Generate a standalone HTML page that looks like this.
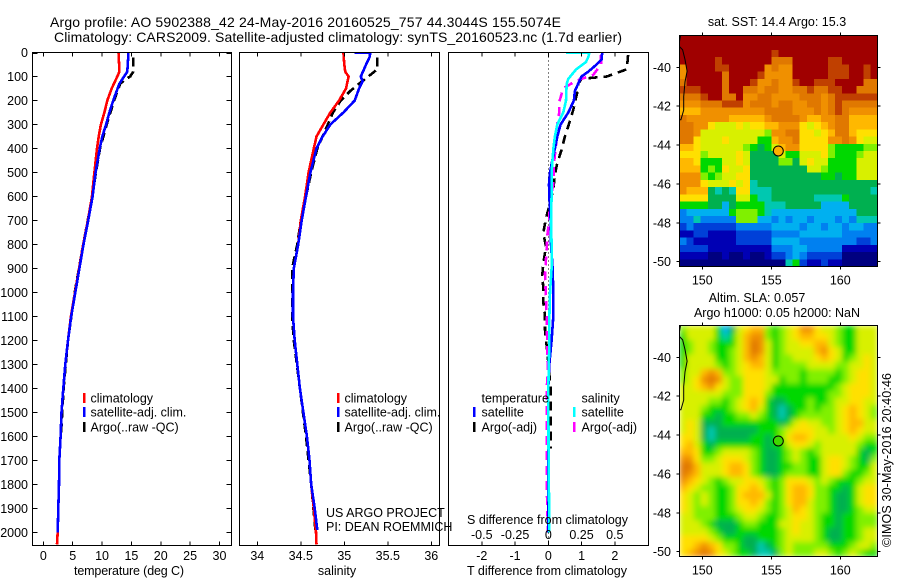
<!DOCTYPE html>
<html>
<head>
<meta charset="utf-8">
<title>Argo profile</title>
<style>
html,body{margin:0;padding:0;background:#fff;width:900px;height:580px;overflow:hidden}
svg{display:block}
text{font-family:"Liberation Sans",sans-serif;font-size:12.5px;fill:#000}
</style>
</head>
<body>
<svg id="chart" xmlns="http://www.w3.org/2000/svg" width="900" height="580" viewBox="0 0 900 580">
<defs>
<clipPath id="clip-temp"><rect x="32.5" y="52.5" width="199" height="493"/></clipPath>
<clipPath id="clip-sal"><rect x="239.5" y="52.5" width="200" height="493"/></clipPath>
<clipPath id="clip-diff"><rect x="448.5" y="52.5" width="200" height="493"/></clipPath>
<clipPath id="clip-sst"><rect x="679.5" y="35.5" width="198" height="231"/></clipPath>
<clipPath id="clip-sla"><rect x="679.5" y="325.5" width="198" height="231"/></clipPath>
<filter id="smooth" x="0" y="0" width="1" height="1"><feGaussianBlur stdDeviation="3" edgeMode="duplicate"/></filter>
</defs>
<text x="50" y="27" style="font-size:14px" textLength="511" lengthAdjust="spacing">Argo profile: AO 5902388_42 24-May-2016 20160525_757 44.3044S 155.5074E</text>
<text x="54" y="42" style="font-size:14px" textLength="568" lengthAdjust="spacing">Climatology: CARS2009. Satellite-adjusted climatology: synTS_20160523.nc (1.7d earlier)</text>
<g id="layer"></g>
<text x="129" y="575" text-anchor="middle" textLength="110" lengthAdjust="spacing">temperature (deg C)</text>
<text x="337" y="575" text-anchor="middle">salinity</text>
<text x="547" y="575" text-anchor="middle" textLength="160" lengthAdjust="spacing">T difference from climatology</text>
<text x="547.5" y="524" text-anchor="middle" textLength="161" lengthAdjust="spacing">S difference from climatology</text>
<text x="326" y="517">US ARGO PROJECT</text>
<text x="326" y="531">PI: DEAN ROEMMICH</text>
<text x="777" y="26" text-anchor="middle">sat. SST: 14.4  Argo: 15.3</text>
<text x="757" y="302" text-anchor="middle">Altim. SLA: 0.057</text>
<text x="777" y="317" text-anchor="middle">Argo h1000: 0.05 h2000: NaN</text>
<text transform="translate(891,547) rotate(-90)" textLength="174" lengthAdjust="spacing">©IMOS 30-May-2016 20:40:46</text>
</svg>
<script>
const depthTicks = [0,100,200,300,400,500,600,700,800,900,1000,1100,1200,1300,1400,1500,1600,1700,1800,1900,2000];
const tempTicks = [0,5,10,15,20,25,30];
const salTicks = [34,34.5,35,35.5,36];
const tDiffTicks = [-2,-1,0,1,2];
const sDiffTicks = [-0.5,-0.25,0,0.25,0.5];
const lonTicks = [150,155,160];
const latTicks = [-40,-42,-44,-46,-48,-50];

const climDepth = [0,50,80,100,150,200,250,300,350,400,500,600,700,800,900,1000,1100,1200,1300,1400,1500,1600,1700,1800,1900,2000,2050];
const climTemp = [12.8,12.9,12.95,12.6,11.65,10.9,10.4,9.8,9.43,9.15,8.7,8.3,7.6,6.8,6.1,5.4,4.7,4.2,3.75,3.4,3.1,2.95,2.73,2.67,2.55,2.45,2.33];
const climSal = [34.99,35,35.01,35.05,35.02,34.94,34.84,34.76,34.68,34.65,34.59,34.55,34.5,34.47,34.42,34.41,34.41,34.43,34.46,34.49,34.53,34.57,34.6,34.62,34.65,34.675,34.68];

const satTDepth = [0,80,100,130,200,250,300,350,400,500,600,700,800,900,1000,1100,1200,1300,1400,1500,1600,1700,1800,1900,2000];
const satTemp = [14.5,14.3,13.75,12.95,11.9,11.25,10.7,10.05,9.6,8.9,8.4,7.65,6.85,6.15,5.45,4.75,4.2,3.75,3.4,3.1,2.95,2.73,2.67,2.55,2.45];
const satSDepth = [0,0,20,50,100,120,150,200,250,300,350,400,500,600,700,800,900,1000,1100,1200,1300,1400,1500,1600,1700,1800,1900,1990];
const satSal = [35.12,35.3,35.29,35.25,35.19,35.21,35.17,35.12,34.99,34.84,34.75,34.68,34.61,34.56,34.51,34.47,34.42,34.41,34.41,34.43,34.46,34.49,34.53,34.57,34.6,34.62,34.66,34.69];

const argoTDepth = [20,80,100,110,130,200,300,400,500,600,800,1000,1200,1400,1600];
const argoTemp = [15.3,15.3,14.8,14.1,13.1,12.05,10.8,9.65,8.95,8.35,6.8,5.35,4.2,3.45,3];
const argoSDepth = [20,70,90,110,130,160,200,250,300,400,500,600,700,800,900,1000,1100,1200,1400,1600,1800,2000];
const argoSal = [35.38,35.38,35.31,35.24,35.17,35.07,34.96,34.87,34.81,34.69,34.62,34.56,34.5,34.46,34.4,34.4,34.4,34.42,34.49,34.56,34.62,34.67];

const dTSatDepth = [0,30,60,80,100,130,160,200,250,300,350,400,450,500,550,600,700,800,900,1000,1100,1200,1300,1400,1700,2000];
const dTSat = [1.62,1.6,1.37,1.2,1,0.9,0.8,0.77,0.6,0.37,0.27,0.2,0.12,0.05,0.02,0.03,0.07,0.08,0.13,0.15,0.15,0.1,0.03,0,0,0];
const dTArgoDepth = [10,70,80,100,105,110,130,149,240,295,350,405,460,510,570,630,690,753,810,878,928,982,1040,1100,1157,1260,1400,1650];
const dTArgo = [2.4,2.36,2.16,1.76,1.35,1,0.9,0.9,0.75,0.63,0.5,0.4,0.27,0.2,0.15,0.05,-0.07,-0.15,-0.07,-0.15,-0.18,-0.15,-0.15,-0.1,-0.1,-0.02,0.07,0.07];
const dSSatDepth = [0,0,20,40,70,90,110,130,200,250,300,350,400,500,600,700,800,900,1000,1100,1200,1300,1400,1700,2000];
const dSSat = [0.133,0.31,0.3,0.283,0.21,0.18,0.15,0.138,0.133,0.113,0.068,0.05,0.038,0.025,0.025,0.02,0.025,0.025,0.013,0.008,0.008,0.004,0,0.002,0.008];
const dSArgoDepth = [10,50,93,118,149,205,250,295,360,460,545,640,698,753,860,920,1040,1100,1215,1340,1400,1800,2000];
const dSArgo = [0.396,0.396,0.338,0.21,0.113,0.083,0.083,0.068,0.063,0.043,0.038,0.008,0.008,-0.005,-0.017,-0.025,-0.017,-0.012,-0.008,-0.004,-0.012,-0.012,-0.002];

const coastLon = [148.43,148.3,148.57,148.75,148.9,148.75,148.65,148.65,148.45,148.3];
const coastLat = [-38.34,-38.9,-39.1,-39.6,-40.2,-40.75,-41.5,-42.2,-42.7,-42.7];
const floatLon = [155.5074];
const floatLat = [-44.3044];

const sstLevels = [
[15,15,15,15,15,15,15,15,15,15,15,15,15,15,15,15,15,15,15,15,15,15,15,15,15,15,15,15],
[15,15,15,15,15,15,15,15,15,15,15,15,15,15,15,15,15,15,15,15,15,15,15,15,15,15,15,15],
[15,15,15,15,15,15,15,15,15,15,15,15,15,14,15,15,15,15,15,15,15,15,15,15,15,15,15,15],
[15,15,15,15,15,14,15,15,15,15,15,15,15,13,13,13,15,15,15,15,15,14,14,15,15,15,15,15],
[12,15,15,15,15,14,14,15,15,15,15,15,12,13,12,12,15,15,15,15,15,14,14,14,15,15,14,15],
[12,15,15,15,15,15,13,15,15,15,15,14,12,12,12,12,15,15,15,15,15,14,14,14,15,15,14,15],
[13,15,15,15,15,15,13,15,15,15,14,12,12,13,12,12,14,15,15,14,14,14,15,15,15,15,13,13],
[14,14,14,15,15,15,13,15,15,13,13,12,13,13,12,12,13,13,14,13,13,14,14,15,15,13,13,13],
[13,13,13,14,15,15,13,13,15,12,12,13,13,12,12,12,12,13,13,13,12,13,14,14,14,14,14,14],
[12,12,12,13,13,13,14,14,14,12,13,13,13,12,13,13,12,12,13,13,12,13,14,13,13,13,13,13],
[11,11,11,12,12,12,12,12,12,12,12,12,13,13,13,13,12,12,12,13,12,13,14,13,12,12,12,12],
[13,12,12,12,12,12,12,11,11,11,11,11,12,13,13,13,13,12,11,11,12,12,13,13,11,11,11,11],
[13,13,12,12,10,9,9,9,10,9,10,10,11,11,12,12,12,10,9,10,11,12,13,13,11,11,11,11],
[13,13,12,9,9,9,9,9,9,9,9,9,8,12,12,13,13,10,10,9,10,11,13,13,11,10,10,10],
[13,13,10,9,9,9,10,9,9,9,9,7,7,11,12,12,13,10,10,10,10,12,12,13,12,10,9,9],
[11,11,10,9,9,9,9,9,9,8,7,6,7,9,11,12,12,10,10,10,10,8,7,7,7,7,8,8],
[10,10,10,8,9,9,9,9,10,9,6,6,6,6,9,7,7,9,9,9,10,8,7,7,7,8,9,9],
[11,11,10,7,7,7,9,9,10,9,6,6,6,6,8,8,6,9,10,9,9,7,7,7,7,9,9,9],
[11,11,11,7,8,7,10,9,9,10,6,6,6,6,6,6,6,6,9,9,8,7,7,7,7,9,9,9],
[12,12,12,8,7,8,9,9,10,10,6,6,6,6,6,6,6,6,6,6,7,7,6,7,7,9,9,9],
[12,12,12,10,9,9,9,10,9,10,5,6,6,6,6,6,6,6,6,6,6,6,6,6,6,6,6,6],
[12,11,11,11,6,5,6,5,10,10,5,5,5,6,6,6,6,6,6,6,6,6,6,6,6,6,6,5],
[10,10,10,10,6,6,6,6,9,9,7,5,5,6,6,6,6,6,6,5,5,5,5,7,6,6,6,6],
[7,7,7,7,6,6,4,6,7,7,7,7,5,5,5,6,6,6,6,6,4,4,4,4,6,6,6,6],
[3,4,4,4,4,4,4,7,8,8,8,7,5,4,4,4,4,4,4,4,4,4,4,4,4,6,6,6],
[3,3,5,3,3,3,3,3,8,8,8,4,4,3,4,3,4,4,3,4,4,4,3,4,3,5,5,5],
[2,3,2,2,2,2,2,2,3,3,3,3,3,4,4,4,4,3,4,4,3,4,4,3,4,4,3,3],
[1,1,2,2,1,1,1,1,2,2,2,2,2,3,3,3,3,4,4,4,4,4,4,3,3,3,3,3],
[3,2,1,1,1,1,1,1,2,2,2,2,2,4,4,4,4,3,3,3,3,3,3,3,3,2,2,3],
[2,2,2,2,1,1,1,1,1,1,1,1,1,3,3,3,4,4,3,3,3,3,3,1,1,1,1,1],
[1,1,1,1,0,0,1,0,0,1,0,0,1,2,2,3,4,3,2,2,2,2,2,0,0,0,0,0],
[0,0,0,0,0,0,0,0,0,0,0,0,0,0,0,5,7,2,1,1,2,1,1,0,0,0,0,0]
];
const slaLevels = [
[8,9,9,9,9,7,4,6,9,10,11,11,8,7,8,9,10,12,12,10,9,9,8,7,7,9,9,9],
[7,9,9,9,9,7,5,7,9,11,12,12,8,7,8,9,10,11,11,10,10,9,8,7,7,9,9,9],
[7,8,9,9,8,7,7,7,9,11,13,12,9,7,8,9,9,10,10,11,11,9,8,7,7,9,9,9],
[7,8,9,9,8,7,7,8,9,11,13,12,9,7,8,9,9,9,9,11,12,10,9,7,7,9,9,9],
[7,9,9,9,9,7,7,8,9,11,12,11,9,7,8,8,9,9,9,10,11,10,9,7,8,9,10,9],
[7,9,9,9,9,8,7,8,9,10,11,11,9,7,8,8,8,8,9,9,9,9,8,8,9,9,10,9],
[8,9,9,11,12,11,8,8,9,10,10,10,9,8,8,8,8,7,8,8,8,8,7,8,9,10,10,9],
[8,9,10,12,13,12,9,8,8,10,10,10,9,9,7,8,8,7,8,8,8,7,7,8,9,10,10,9],
[9,9,10,11,12,10,9,8,8,10,10,10,9,7,7,7,7,7,7,7,7,7,8,9,10,10,10,9],
[9,9,9,9,9,9,8,8,8,10,10,10,8,7,7,7,7,7,7,7,7,8,8,9,10,10,10,9],
[9,9,9,9,8,8,7,8,9,10,11,10,7,6,6,7,7,7,8,7,7,8,9,9,10,10,9,9],
[9,9,9,8,7,7,7,8,9,10,11,9,7,6,5,6,7,7,8,7,8,8,9,10,11,10,9,8],
[9,9,9,7,7,6,7,7,8,8,9,8,7,6,5,6,7,8,8,8,8,8,9,10,11,10,9,8],
[9,10,9,6,6,6,7,7,7,7,7,7,7,7,6,7,9,10,9,9,8,8,9,10,11,11,9,9],
[9,10,9,6,5,6,6,6,6,6,6,7,7,7,8,9,10,10,10,9,9,8,9,10,11,10,9,9],
[10,10,9,6,5,6,6,6,6,6,7,7,6,7,8,10,11,11,10,9,9,9,9,9,10,9,8,8],
[10,11,9,7,6,7,7,7,7,7,7,7,6,7,7,9,10,10,9,8,9,9,9,9,9,8,7,7],
[11,11,10,7,7,8,9,9,9,9,8,7,6,6,7,8,9,8,7,8,9,9,9,9,9,7,6,7],
[12,12,10,8,8,9,10,10,10,9,8,7,6,6,7,8,9,8,7,7,9,10,10,9,8,7,6,8],
[13,13,11,9,9,9,10,11,11,10,8,7,6,6,7,7,8,8,7,7,9,10,10,9,8,7,7,9],
[13,12,11,9,9,9,10,11,11,10,8,7,6,6,7,8,8,8,7,7,9,10,10,8,7,7,8,9],
[12,11,10,9,8,7,8,9,9,10,10,9,8,7,8,10,10,10,9,8,9,8,7,7,7,8,9,9],
[11,10,9,8,8,7,7,8,10,10,11,10,8,7,8,10,11,11,10,8,8,7,7,6,7,9,10,10],
[10,9,8,9,8,7,7,8,10,11,11,11,9,7,8,10,11,11,10,8,8,7,6,6,7,9,10,10],
[10,9,8,9,8,7,7,8,10,10,11,10,8,7,8,10,11,11,9,8,8,7,6,6,7,9,10,10],
[10,9,8,8,8,7,7,8,9,10,10,9,8,7,8,9,11,10,9,8,8,7,6,6,7,8,9,9],
[9,9,8,8,8,7,7,7,8,9,9,8,7,7,8,9,10,10,9,8,7,7,6,7,7,8,8,8],
[9,9,9,8,7,6,6,6,7,8,8,7,7,7,9,9,10,9,9,8,7,7,6,7,7,8,8,8],
[9,9,9,9,8,7,6,6,7,7,7,7,7,7,8,9,10,9,9,8,7,6,6,7,7,8,9,9],
[10,10,10,10,9,8,7,7,7,6,6,7,7,7,8,9,9,9,9,8,7,6,6,7,7,8,9,9],
[10,10,11,12,11,10,8,8,7,6,6,5,6,7,8,9,8,8,8,8,8,7,7,7,8,9,9,8],
[10,11,12,13,12,10,9,8,7,7,6,5,5,6,8,9,8,8,8,9,9,8,7,8,9,8,7,7]
];

const levelPalette = ['#000080','#0000b4','#0040d8','#0080f0','#00b0f0','#00c8b0','#00b050','#00d800','#80f000','#d8f000','#ffe000','#ffb800','#f09000','#e07800','#c04000','#a00000'];

const NS = 'http://www.w3.org/2000/svg';
const layer = document.getElementById('layer');
function mk(tag, attrs, parent) {
  const el = document.createElementNS(NS, tag);
  for (const k in attrs) el.setAttribute(k, attrs[k]);
  (parent || layer).appendChild(el);
  return el;
}
const yDepth = d => 52.5 + 0.2399 * d;
const xTemp = v => 43.3 + 5.873 * v;
const xSal = v => 257.3 + 87 * (v - 34);
const xDT = v => 548.3 + 33.25 * v;
const xDS = v => 548.3 + 133 * v;
const lonX = v => 702.3 + 13.8 * (v - 150);
const sstLatY = v => 67.3 + 19.44 * (-40 - v);
const slaLatY = v => 357.3 + 19.44 * (-40 - v);

function tickLine(x1, y1, x2, y2, name) {
  const t = mk('line', {x1, y1, x2, y2, stroke: '#000', 'stroke-width': 1, 'shape-rendering': 'crispEdges'});
  
  
}
function label(x, y, str, anchor, name) {
  const t = mk('text', {x, y, 'text-anchor': anchor});
  t.textContent = str;
  
  
}
function frame(x, y, w, h, name) {
  const r = mk('rect', {x, y, width: w, height: h, fill: 'none', stroke: '#000', 'stroke-width': 1, 'shape-rendering': 'crispEdges'});
  
  
}
function profile(group, xs, ds, xf, color, width, dash, name) {
  const pts = ds.map((d, i) => xf(xs[i]).toFixed(1) + ',' + yDepth(d).toFixed(1)).join(' ');
  const attrs = {points: pts, fill: 'none', stroke: color, 'stroke-width': width, 'shape-rendering': 'crispEdges'};
  if (dash) attrs['stroke-dasharray'] = dash;
  const p = mk('polyline', attrs, group);
  
  
}
function legendEntry(barX, textX, y, color, str, name) {
  const b = mk('rect', {x: barX, y: y - 5, width: 2.5, height: 10, fill: color, 'shape-rendering': 'crispEdges'});
  
  
  label(textX, y + 4.5, str, 'start', name);
}

/* temperature panel */
const gTemp = mk('g', {'clip-path': 'url(#clip-temp)'});


profile(gTemp, argoTemp, argoTDepth, xTemp, '#000', 2.6, '9 5', 'temperature-argo-line');
profile(gTemp, climTemp, climDepth, xTemp, '#ff0000', 2.6, null, 'temperature-climatology-line');
profile(gTemp, satTemp, satTDepth, xTemp, '#0000ff', 2.6, null, 'temperature-satellite-line');
frame(32.5, 52.5, 199, 493, 'temperature-panel-frame');
depthTicks.forEach(d => {
  tickLine(32.5, Math.round(yDepth(d)) + .5, 37.5, Math.round(yDepth(d)) + .5, 'depth-tick-left');
  tickLine(226.5, Math.round(yDepth(d)) + .5, 231.5, Math.round(yDepth(d)) + .5, 'depth-tick-right');
  label(28, yDepth(d) + 4.5, String(d), 'end', 'depth-tick-label');
});
tempTicks.forEach(v => {
  tickLine(xTemp(v), 52.5, xTemp(v), 56.5, 'temperature-tick-top');
  tickLine(xTemp(v), 541.5, xTemp(v), 545.5, 'temperature-tick-bottom');
  label(xTemp(v), 560, String(v), 'middle', 'temperature-tick-label');
});
legendEntry(83, 90.5, 398, '#ff0000', 'climatology', 'temperature-legend-climatology');
legendEntry(83, 90.5, 412, '#0000ff', 'satellite-adj. clim.', 'temperature-legend-satellite');
legendEntry(83, 90.5, 427, '#000', 'Argo(..raw -QC)', 'temperature-legend-argo');

/* salinity panel */
const gSal = mk('g', {'clip-path': 'url(#clip-sal)'});


profile(gSal, argoSal, argoSDepth, xSal, '#000', 2.6, '9 5', 'salinity-argo-line');
profile(gSal, climSal, climDepth, xSal, '#ff0000', 2.6, null, 'salinity-climatology-line');
profile(gSal, satSal, satSDepth, xSal, '#0000ff', 2.6, null, 'salinity-satellite-line');
frame(239.5, 52.5, 200, 493, 'salinity-panel-frame');
salTicks.forEach(v => {
  tickLine(xSal(v), 52.5, xSal(v), 56.5, 'salinity-tick-top');
  tickLine(xSal(v), 541.5, xSal(v), 545.5, 'salinity-tick-bottom');
  label(xSal(v), 560, String(v), 'middle', 'salinity-tick-label');
});
legendEntry(337, 344.5, 398, '#ff0000', 'climatology', 'salinity-legend-climatology');
legendEntry(337, 344.5, 412, '#0000ff', 'satellite-adj. clim.', 'salinity-legend-satellite');
legendEntry(337, 344.5, 427, '#000', 'Argo(..raw -QC)', 'salinity-legend-argo');

/* difference panel */
const zero = mk('line', {x1: 548.5, y1: 52.5, x2: 548.5, y2: 545, stroke: '#000', 'stroke-width': 1, 'stroke-dasharray': '1 3', 'shape-rendering': 'crispEdges'});


const gDiff = mk('g', {'clip-path': 'url(#clip-diff)'});


profile(gDiff, dTArgo, dTArgoDepth, xDT, '#000', 2.6, '9 6', 'dt-argo-line');
profile(gDiff, dSArgo, dSArgoDepth, xDS, '#ff00ff', 2.6, '9 6', 'ds-argo-line');
profile(gDiff, dTSat, dTSatDepth, xDT, '#0000ff', 2.6, null, 'dt-satellite-line');
profile(gDiff, dSSat, dSSatDepth, xDS, '#00ffff', 2.6, null, 'ds-satellite-line');
frame(448.5, 52.5, 200, 493, 'difference-panel-frame');
tDiffTicks.forEach(v => {
  tickLine(xDT(v), 52.5, xDT(v), 56.5, 'difference-tick-top');
  tickLine(xDT(v), 541.5, xDT(v), 545.5, 'difference-tick-bottom');
  label(xDT(v), 560, String(v), 'middle', 't-difference-tick-label');
});
sDiffTicks.forEach(v => {
  label(xDS(v), 539, String(v), 'middle', 's-difference-tick-label');
});
label(481.5, 402.5, 'temperature', 'start', 'legend-heading-temperature');
label(581.5, 402.5, 'salinity', 'start', 'legend-heading-salinity');
legendEntry(473, 481.5, 412, '#0000ff', 'satellite', 'difference-legend-t-satellite');
legendEntry(473, 481.5, 427, '#000', 'Argo(-adj)', 'difference-legend-t-argo');
legendEntry(573, 581.5, 412, '#00ffff', 'satellite', 'difference-legend-s-satellite');
legendEntry(573, 581.5, 427, '#ff00ff', 'Argo(-adj)', 'difference-legend-s-argo');

/* maps */
function drawMap(levels, top, latY, clip, filter, prefix, markerFill) {
  const outer = mk('g', {'clip-path': 'url(#' + clip + ')'});
  
  
  const g = mk('g', filter ? {filter: 'url(#smooth)'} : {}, outer);
  const cols = levels[0].length, rows = levels.length;
  const cw = 198 / cols, ch = 231 / rows;
  levels.forEach((row, r) => row.forEach((val, c) => {
    const cell = mk('rect', {x: 679.5 + c * cw, y: top + r * ch, width: cw + .6, height: ch + .6, fill: levelPalette[val], 'shape-rendering': 'crispEdges'}, g);
    
    
  }));
  const coast = mk('polyline', {points: coastLon.map((lon, i) => lonX(lon).toFixed(1) + ',' + latY(coastLat[i]).toFixed(1)).join(' '), fill: 'none', stroke: '#000', 'stroke-width': 1}, outer);
  
  
  const dot = mk('circle', {cx: lonX(floatLon[0]), cy: latY(floatLat[0]), r: 5, fill: markerFill, stroke: '#000', 'stroke-width': 1}, outer);
  
  
  frame(679.5, top, 198, 231, prefix + '-map-frame');
  lonTicks.forEach(v => {
    tickLine(lonX(v), top - 3, lonX(v), top, prefix + '-lon-tick-top');
    tickLine(lonX(v), top + 231, lonX(v), top + 234, prefix + '-lon-tick-bottom');
    label(lonX(v), top + 249, String(v), 'middle', prefix + '-lon-label');
  });
  latTicks.forEach(v => {
    tickLine(676.5, latY(v), 679.5, latY(v), prefix + '-lat-tick-left');
    tickLine(877.5, latY(v), 880.5, latY(v), prefix + '-lat-tick-right');
    label(671, latY(v) + 4.5, String(v), 'end', prefix + '-lat-label');
  });
}
drawMap(sstLevels, 35.5, sstLatY, 'clip-sst', false, 'sst', '#ffb000');
drawMap(slaLevels, 325.5, slaLatY, 'clip-sla', true, 'sla', '#40d800');
</script>
</body>
</html>
